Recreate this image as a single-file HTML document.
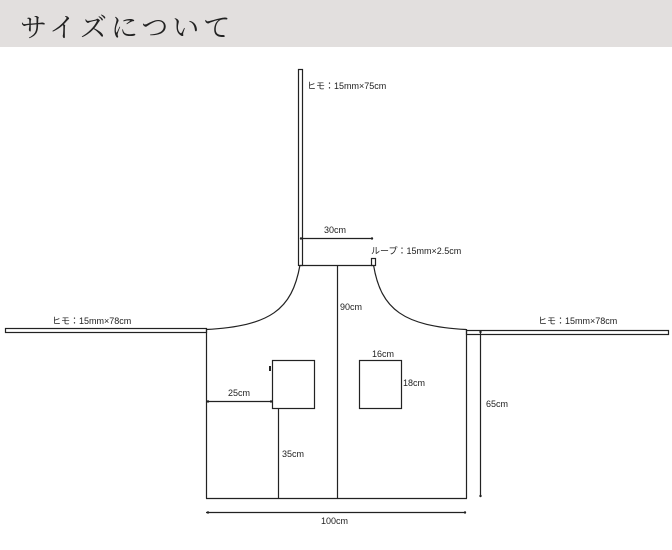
<!DOCTYPE html>
<html><head><meta charset="utf-8"><style>
body{margin:0;width:672px;height:550px;background:#fff;overflow:hidden;position:relative;font-family:"Liberation Sans","Noto Sans CJK JP",sans-serif}
.hd{position:absolute;left:0;top:0;width:672px;height:47px;background:#e2dfde}
.hd span{position:absolute;left:20px;top:6px;font-family:"Noto Serif CJK SC","Noto Sans CJK JP",serif;font-size:27px;letter-spacing:4px;color:#222}
svg{position:absolute;left:0;top:0}
text{font-family:"Liberation Sans","Noto Sans CJK JP",sans-serif;font-size:9px;fill:#222}
</style></head><body>
<div class="hd"><span>サイズについて</span></div>
<svg width="672" height="550" viewBox="0 0 672 550" fill="none" stroke="#222" stroke-width="1.2">
<rect x="298.5" y="69.5" width="4" height="196"/>
<line x1="300" y1="265.5" x2="373" y2="265.5"/>
<rect x="371.5" y="258.5" width="4" height="7"/>
<path d="M300 265 C292 310 270 326 206 329.5"/>
<path d="M373.5 265 C381 310 404 326 466 329.5"/>
<line x1="206.5" y1="329" x2="206.5" y2="498.5"/>
<line x1="466.5" y1="329" x2="466.5" y2="498.5"/>
<line x1="206" y1="498.5" x2="467" y2="498.5"/>
<rect x="5.5" y="328.5" width="201" height="4"/>
<rect x="466.5" y="330.5" width="202" height="4"/>
<line x1="300" y1="238.5" x2="373" y2="238.5"/>
<line x1="480.5" y1="331" x2="480.5" y2="497"/>
<line x1="206" y1="512.5" x2="466" y2="512.5"/>
<line x1="337.5" y1="265" x2="337.5" y2="498"/>
<rect x="272.5" y="360.5" width="42" height="48"/>
<rect x="359.5" y="360.5" width="42" height="48"/>
<rect x="269" y="366" width="2" height="5" fill="#222" stroke="none"/>
<line x1="207" y1="401.5" x2="272" y2="401.5"/>
<line x1="278.5" y1="408" x2="278.5" y2="498"/>
<g fill="#222" stroke="none">
<circle cx="372" cy="238.5" r="1.2"/><circle cx="301" cy="238.5" r="1.2"/>
<circle cx="208" cy="512.5" r="1.2"/><circle cx="465" cy="512.5" r="1.2"/>
<circle cx="480.5" cy="332" r="1.2"/><circle cx="480.5" cy="496" r="1.2"/>
<circle cx="208" cy="401.5" r="1.2"/><circle cx="271" cy="401.5" r="1.2"/>
</g>
<g stroke="none">
<text x="307" y="89">ヒモ：15mm×75cm</text>
<text x="324" y="233">30cm</text>
<text x="371" y="254">ループ：15mm×2.5cm</text>
<text x="340" y="310">90cm</text>
<text x="52" y="324">ヒモ：15mm×78cm</text>
<text x="538" y="324">ヒモ：15mm×78cm</text>
<text x="372" y="357">16cm</text>
<text x="403" y="386">18cm</text>
<text x="228" y="396">25cm</text>
<text x="282" y="457">35cm</text>
<text x="486" y="407">65cm</text>
<text x="321" y="524">100cm</text>
</g>
</svg>
</body></html>
